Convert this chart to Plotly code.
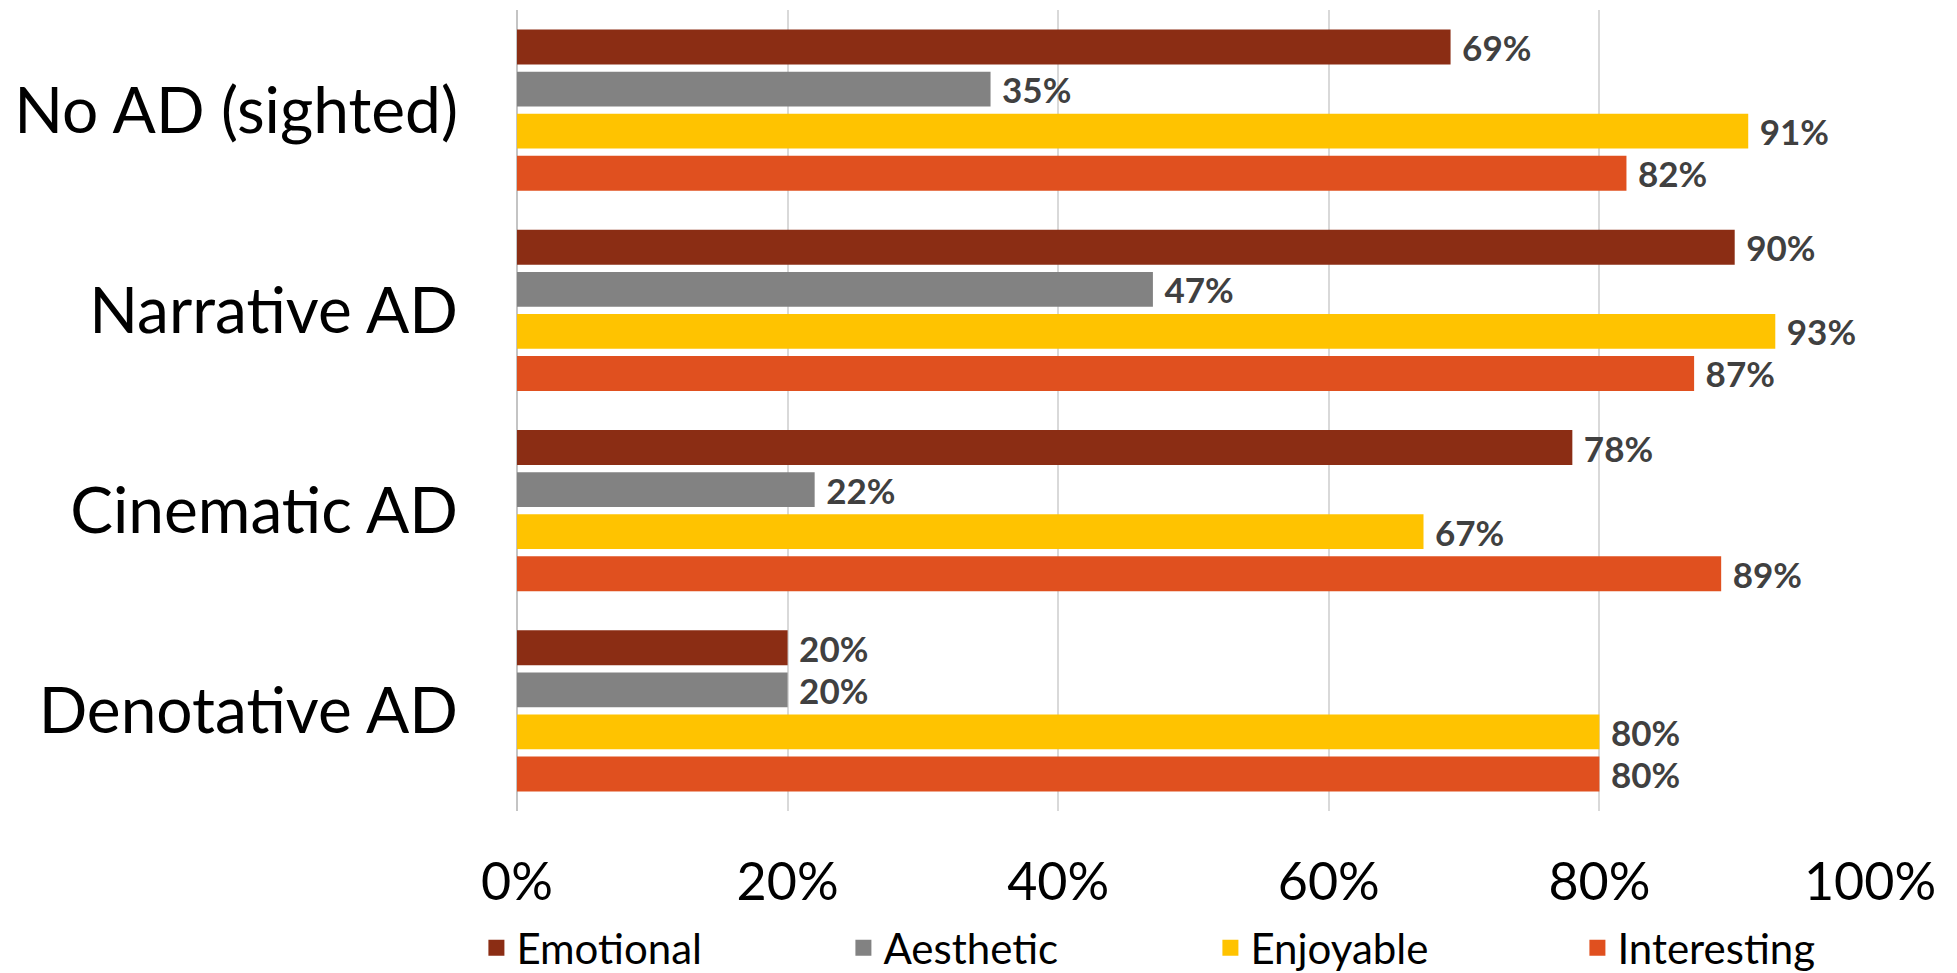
import plotly.graph_objects as go

categories = ["No AD (sighted)", "Narrative AD", "Cinematic AD", "Denotative AD"]
series_names = ["Emotional", "Aesthetic", "Enjoyable", "Interesting"]
emotional = [0.69, 0.90, 0.78, 0.20]
aesthetic = [0.35, 0.47, 0.22, 0.20]
enjoyable = [0.91, 0.93, 0.67, 0.80]
interesting = [0.82, 0.87, 0.89, 0.80]
colors = ["#8B2D14", "#828282", "#FFC300", "#E0501F"]
x_ticks = [0, 0.2, 0.4, 0.6, 0.8, 1.0]

fig = go.Figure()
for name, vals, col in zip(series_names, [emotional, aesthetic, enjoyable, interesting], colors):
    fig.add_trace(go.Bar(
        name=name, y=categories, x=vals, orientation="h",
        marker=dict(color=col, line=dict(width=0)),
        texttemplate="\u00a0%{x:.0%}", textposition="outside", constraintext="none",
        textfont=dict(family="Lato", size=35, color="#404040", weight="bold"),
        cliponaxis=False, showlegend=False, legendgroup=name,
    ))
# legend entries (square markers, no drawn points)
for name, col in zip(series_names, colors):
    fig.add_trace(go.Scatter(
        name=name, x=[None], y=[None], mode="markers",
        marker=dict(symbol="square", size=18, color=col),
        showlegend=True, legendgroup=name,
    ))

fig.update_layout(
    width=1957, height=973,
    margin=dict(l=517, r=87, t=10, b=162, autoexpand=False),
    paper_bgcolor="white", plot_bgcolor="white",
    barmode="group", bargap=0.16, bargroupgap=0.17,
    font=dict(family="Lato", color="black"),
    showlegend=True,
    legend=dict(orientation="h", x=-0.03, xanchor="left", y=-0.171, yanchor="middle",
                font=dict(family="Lato", size=42, color="black"),
                entrywidth=322, entrywidthmode="pixels", itemwidth=30, itemsizing="trace",
                tracegroupgap=0,
                bgcolor="rgba(0,0,0,0)"),
    xaxis=dict(range=[0, 1], tickvals=x_ticks, tickformat=".0%", showgrid=True,
               gridcolor="#D9D9D9", gridwidth=1.5, zeroline=True, zerolinecolor="#C4C4C4",
               zerolinewidth=2, showline=False, ticks="", ticklabelstandoff=36,
               tickfont=dict(family="Lato", size=52, color="black")),
    yaxis=dict(autorange="reversed", showgrid=False, showline=False, ticks="",
               ticklabelstandoff=58, tickfont=dict(family="Lato", size=64, color="black")),
)

fig.write_html("out.html")
